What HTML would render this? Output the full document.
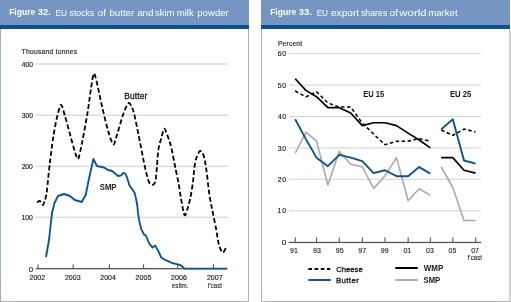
<!DOCTYPE html>
<html><head><meta charset="utf-8"><style>
html,body{margin:0;padding:0;background:#fff;width:511px;height:302px;overflow:hidden;}
svg{display:block;will-change:transform;opacity:0.999;}
</style></head><body>
<svg width="511" height="302" viewBox="0 0 511 302">
<rect width="511" height="302" fill="#fff"/>
<rect x="0" y="0" width="249" height="25" fill="#7595c2"/>
<rect x="0" y="25" width="249" height="4" fill="#0b5096"/>
<rect x="0" y="29" width="1" height="273" fill="#a0b1c2"/>
<rect x="248" y="29" width="1" height="273" fill="#a0b1c2"/>
<rect x="0" y="301" width="249" height="1" fill="#a9b4bf"/>
<text x="9.17" y="15.30" font-family="Liberation Sans, sans-serif" font-size="8.77" fill="#fff" font-weight="bold" textLength="26.11" lengthAdjust="spacingAndGlyphs">Figure</text>
<text x="37.69" y="15.30" font-family="Liberation Sans, sans-serif" font-size="8.77" fill="#fff" font-weight="bold" textLength="13.05" lengthAdjust="spacingAndGlyphs">32.</text>
<text x="55.42" y="15.50" font-family="Liberation Sans, sans-serif" font-size="9.18" fill="#fff" textLength="11.52" lengthAdjust="spacingAndGlyphs">EU</text>
<text x="69.56" y="15.50" font-family="Liberation Sans, sans-serif" font-size="9.18" fill="#fff" textLength="24.63" lengthAdjust="spacingAndGlyphs">stocks</text>
<text x="97.56" y="15.50" font-family="Liberation Sans, sans-serif" font-size="9.18" fill="#fff" textLength="8.63" lengthAdjust="spacingAndGlyphs">of</text>
<text x="109.47" y="15.50" font-family="Liberation Sans, sans-serif" font-size="9.18" fill="#fff" textLength="24.77" lengthAdjust="spacingAndGlyphs">butter</text>
<text x="137.19" y="15.50" font-family="Liberation Sans, sans-serif" font-size="9.18" fill="#fff" textLength="16.23" lengthAdjust="spacingAndGlyphs">and</text>
<text x="154.94" y="15.50" font-family="Liberation Sans, sans-serif" font-size="9.18" fill="#fff" textLength="19.48" lengthAdjust="spacingAndGlyphs">skim</text>
<text x="176.65" y="15.50" font-family="Liberation Sans, sans-serif" font-size="9.18" fill="#fff" textLength="17.15" lengthAdjust="spacingAndGlyphs">milk</text>
<text x="197.27" y="15.50" font-family="Liberation Sans, sans-serif" font-size="9.18" fill="#fff" textLength="31.57" lengthAdjust="spacingAndGlyphs">powder</text>
<rect x="261" y="0" width="249" height="25" fill="#7595c2"/>
<rect x="261" y="25" width="249" height="4" fill="#0b5096"/>
<rect x="261" y="29" width="1" height="273" fill="#a0b1c2"/>
<rect x="509" y="29" width="2" height="273" fill="#cdd4db"/>
<rect x="261" y="301" width="249" height="1" fill="#a9b4bf"/>
<text x="270.17" y="15.30" font-family="Liberation Sans, sans-serif" font-size="8.77" fill="#fff" font-weight="bold" textLength="26.11" lengthAdjust="spacingAndGlyphs">Figure</text>
<text x="298.69" y="15.30" font-family="Liberation Sans, sans-serif" font-size="8.77" fill="#fff" font-weight="bold" textLength="13.05" lengthAdjust="spacingAndGlyphs">33.</text>
<text x="316.63" y="15.50" font-family="Liberation Sans, sans-serif" font-size="9.18" fill="#fff" textLength="11.29" lengthAdjust="spacingAndGlyphs">EU</text>
<text x="330.97" y="15.50" font-family="Liberation Sans, sans-serif" font-size="9.18" fill="#fff" textLength="28.1" lengthAdjust="spacingAndGlyphs">export</text>
<text x="360.96" y="15.50" font-family="Liberation Sans, sans-serif" font-size="9.18" fill="#fff" textLength="26.34" lengthAdjust="spacingAndGlyphs">shares</text>
<text x="389.46" y="15.50" font-family="Liberation Sans, sans-serif" font-size="9.18" fill="#fff" textLength="8.63" lengthAdjust="spacingAndGlyphs">of</text>
<text x="399.33" y="15.50" font-family="Liberation Sans, sans-serif" font-size="9.18" fill="#fff" textLength="27.21" lengthAdjust="spacingAndGlyphs">world</text>
<text x="428.15" y="15.50" font-family="Liberation Sans, sans-serif" font-size="9.18" fill="#fff" textLength="29.43" lengthAdjust="spacingAndGlyphs">market</text>
<text x="21.62" y="53.90" font-family="Liberation Sans, sans-serif" font-size="6.78" fill="#1a1a1a" letter-spacing="0.224" stroke="#1a1a1a" stroke-width="0.15">Thousand tonnes</text>
<rect x="35.6" y="63.3" width="192.6" height="1.4" fill="#dadada"/>
<text x="21.83" y="66.50" font-family="Liberation Sans, sans-serif" font-size="6.92" fill="#1a1a1a" textLength="11.05" lengthAdjust="spacingAndGlyphs" stroke="#1a1a1a" stroke-width="0.15">400</text>
<rect x="35.6" y="114.5" width="192.6" height="1.4" fill="#dadada"/>
<text x="21.72" y="117.70" font-family="Liberation Sans, sans-serif" font-size="6.92" fill="#1a1a1a" textLength="11.16" lengthAdjust="spacingAndGlyphs" stroke="#1a1a1a" stroke-width="0.15">300</text>
<rect x="35.6" y="165.70000000000002" width="192.6" height="1.4" fill="#dadada"/>
<text x="21.64" y="168.90" font-family="Liberation Sans, sans-serif" font-size="6.92" fill="#1a1a1a" textLength="11.25" lengthAdjust="spacingAndGlyphs" stroke="#1a1a1a" stroke-width="0.15">200</text>
<rect x="35.6" y="216.70000000000002" width="192.6" height="1.4" fill="#dadada"/>
<text x="21.46" y="219.90" font-family="Liberation Sans, sans-serif" font-size="6.92" fill="#1a1a1a" textLength="11.43" lengthAdjust="spacingAndGlyphs" stroke="#1a1a1a" stroke-width="0.15">100</text>
<text x="28.76" y="271.50" font-family="Liberation Sans, sans-serif" font-size="6.64" fill="#1a1a1a" textLength="4.37" lengthAdjust="spacingAndGlyphs" stroke="#1a1a1a" stroke-width="0.15">0</text>
<rect x="35.8" y="268" width="191.5" height="1.3" fill="#555555"/>
<rect x="37.5" y="264.3" width="1.1" height="4" fill="#555555"/>
<text x="29.47" y="279.70" font-family="Liberation Sans, sans-serif" font-size="7.19" fill="#1a1a1a" textLength="15.77" lengthAdjust="spacingAndGlyphs" stroke="#1a1a1a" stroke-width="0.15">2002</text>
<rect x="72.6" y="264.3" width="1.1" height="4" fill="#555555"/>
<text x="64.92" y="279.70" font-family="Liberation Sans, sans-serif" font-size="7.19" fill="#1a1a1a" textLength="15.72" lengthAdjust="spacingAndGlyphs" stroke="#1a1a1a" stroke-width="0.15">2003</text>
<rect x="108.8" y="264.3" width="1.1" height="4" fill="#555555"/>
<text x="100.32" y="279.70" font-family="Liberation Sans, sans-serif" font-size="7.19" fill="#1a1a1a" textLength="15.61" lengthAdjust="spacingAndGlyphs" stroke="#1a1a1a" stroke-width="0.15">2004</text>
<rect x="143.0" y="264.3" width="1.1" height="4" fill="#555555"/>
<text x="135.62" y="279.70" font-family="Liberation Sans, sans-serif" font-size="7.19" fill="#1a1a1a" textLength="15.7" lengthAdjust="spacingAndGlyphs" stroke="#1a1a1a" stroke-width="0.15">2005</text>
<rect x="177.0" y="264.3" width="1.1" height="4" fill="#555555"/>
<text x="171.12" y="279.70" font-family="Liberation Sans, sans-serif" font-size="7.19" fill="#1a1a1a" textLength="15.72" lengthAdjust="spacingAndGlyphs" stroke="#1a1a1a" stroke-width="0.15">2006</text>
<rect x="212.9" y="264.3" width="1.1" height="4" fill="#555555"/>
<text x="206.92" y="279.70" font-family="Liberation Sans, sans-serif" font-size="7.19" fill="#1a1a1a" textLength="15.77" lengthAdjust="spacingAndGlyphs" stroke="#1a1a1a" stroke-width="0.15">2007</text>
<text x="171.78" y="287.60" font-family="Liberation Sans, sans-serif" font-size="6.99" fill="#1a1a1a" textLength="16.83" lengthAdjust="spacingAndGlyphs" stroke="#1a1a1a" stroke-width="0.1">estim.</text>
<text x="207.66" y="287.60" font-family="Liberation Sans, sans-serif" font-size="6.99" fill="#1a1a1a" textLength="14.33" lengthAdjust="spacingAndGlyphs" stroke="#1a1a1a" stroke-width="0.1">f’cast</text>
<path d="M46.00,257.00 L49.00,240.00 L52.00,212.80 L54.50,203.00 L58.00,196.00 L64.00,194.00 L70.00,196.00 L74.80,200.00 L81.70,202.00 L85.70,195.00 L88.70,180.00 L93.40,159.00 L97.00,166.00 L104.00,167.50 L108.00,170.00 L112.00,171.00 L118.00,176.00 L121.00,175.50 L123.30,172.90 L125.30,173.60 L127.30,178.20 L129.30,184.90 L131.90,188.80 L134.60,192.80 L135.90,198.10 L137.20,204.70 L138.00,213.20 L139.30,221.20 L141.30,229.10 L143.90,234.40 L145.90,235.50 L149.30,243.60 L152.60,247.60 L155.20,245.60 L157.90,250.20 L161.20,257.50 L165.80,260.20 L172.50,263.20 L177.80,264.40 L181.10,265.50 L184.40,268.60 L227.00,268.60" fill="none" stroke="#0b5399" stroke-width="1.85" stroke-linejoin="round"/>
<path d="M37,202.5 C37.40,202.30 39.20,200.67 40,201 C40.80,201.33 42.33,205.13 43,205 C43.67,204.87 44.53,201.47 45,200 C45.47,198.53 46.17,196.00 46.5,194 C46.83,192.00 47.06,189.08 47.5,185 C47.94,180.92 49.03,169.83 49.8,163.4 C50.57,156.97 52.37,142.83 53.3,136.8 C54.23,130.77 55.77,122.45 56.8,118.2 C57.83,113.95 59.92,105.21 61,104.9 C62.08,104.59 63.61,111.65 64.9,115.9 C66.19,120.15 69.31,131.85 70.7,136.8 C72.09,141.75 74.29,150.07 75.3,153 C76.31,155.93 77.37,160.35 78.3,158.8 C79.23,157.25 81.09,147.43 82.3,141.4 C83.51,135.37 86.27,120.48 87.4,113.6 C88.53,106.72 89.96,95.13 90.8,89.8 C91.64,84.47 92.93,74.71 93.7,73.6 C94.47,72.49 95.45,76.97 96.6,81.5 C97.75,86.03 100.74,100.95 102.3,107.6 C103.86,114.25 106.83,126.48 108.3,131.4 C109.77,136.32 112.14,144.06 113.3,144.5 C114.46,144.94 115.63,138.87 117,134.7 C118.37,130.53 122.03,117.43 123.6,113.2 C125.17,108.97 127.48,103.21 128.8,103 C130.12,102.79 132.21,107.37 133.5,111.6 C134.79,115.83 137.03,127.58 138.5,134.7 C139.97,141.82 143.17,158.84 144.5,165 C145.83,171.16 147.53,178.25 148.5,180.9 C149.47,183.55 150.92,184.73 151.8,184.9 C152.68,185.07 154.49,183.80 155.1,182.2 C155.71,180.60 155.96,177.25 156.4,172.9 C156.84,168.55 157.75,154.23 158.4,149.6 C159.05,144.97 160.50,140.99 161.3,138.2 C162.10,135.41 163.33,128.34 164.4,128.7 C165.47,129.06 168.30,138.03 169.3,140.9 C170.30,143.77 171.10,146.65 171.9,150.2 C172.70,153.75 174.41,163.07 175.3,167.5 C176.19,171.93 177.84,179.27 178.6,183.4 C179.36,187.53 180.21,194.27 181,198.5 C181.79,202.73 183.62,213.77 184.5,215.1 C185.38,216.43 186.84,210.71 187.6,208.5 C188.36,206.29 189.49,201.95 190.2,198.5 C190.91,195.05 192.33,186.81 192.9,182.6 C193.47,178.39 194.02,170.23 194.5,166.9 C194.98,163.57 195.79,159.72 196.5,157.6 C197.21,155.48 199.00,151.61 199.8,151 C200.60,150.39 201.89,152.04 202.5,153 C203.11,153.96 203.88,155.91 204.4,158.2 C204.92,160.49 205.73,165.35 206.4,170.2 C207.07,175.05 208.64,189.41 209.4,194.6 C210.16,199.79 211.23,204.66 212.1,209.1 C212.97,213.54 214.99,223.14 215.9,227.9 C216.81,232.66 217.97,241.49 218.9,244.8 C219.83,248.11 221.85,252.57 222.9,252.7 C223.95,252.83 226.28,246.72 226.8,245.8" fill="none" stroke="#000" stroke-width="1.8" stroke-dasharray="4.8 2.5"/>
<text x="124.37" y="98.90" font-family="Liberation Sans, sans-serif" font-size="8.33" fill="#1a1a1a" letter-spacing="0.115" stroke="#1a1a1a" stroke-width="0.32">Butter</text>
<text x="99.77" y="189.80" font-family="Liberation Sans, sans-serif" font-size="9.04" fill="#1a1a1a" font-weight="bold" textLength="16.7" lengthAdjust="spacingAndGlyphs">SMP</text>
<text x="277.93" y="45.90" font-family="Liberation Sans, sans-serif" font-size="6.64" fill="#1a1a1a" letter-spacing="0.227" stroke="#1a1a1a" stroke-width="0.15">Percent</text>
<rect x="288.8" y="53.12" width="192.2" height="1" fill="#d2d2d2"/>
<text x="277.73" y="56.22" font-family="Liberation Sans, sans-serif" font-size="6.92" fill="#1a1a1a" letter-spacing="0.677" stroke="#1a1a1a" stroke-width="0.15">60</text>
<rect x="288.8" y="84.55" width="192.2" height="1" fill="#d2d2d2"/>
<text x="277.80" y="87.65" font-family="Liberation Sans, sans-serif" font-size="6.92" fill="#1a1a1a" letter-spacing="0.607" stroke="#1a1a1a" stroke-width="0.15">50</text>
<rect x="288.8" y="115.98" width="192.2" height="1" fill="#d2d2d2"/>
<text x="277.92" y="119.08" font-family="Liberation Sans, sans-serif" font-size="6.92" fill="#1a1a1a" letter-spacing="0.486" stroke="#1a1a1a" stroke-width="0.15">40</text>
<rect x="288.8" y="147.41" width="192.2" height="1" fill="#d2d2d2"/>
<text x="277.82" y="150.51" font-family="Liberation Sans, sans-serif" font-size="6.92" fill="#1a1a1a" letter-spacing="0.59" stroke="#1a1a1a" stroke-width="0.15">30</text>
<rect x="288.8" y="178.84" width="192.2" height="1" fill="#d2d2d2"/>
<text x="277.73" y="181.94" font-family="Liberation Sans, sans-serif" font-size="6.92" fill="#1a1a1a" letter-spacing="0.677" stroke="#1a1a1a" stroke-width="0.15">20</text>
<rect x="288.8" y="210.27" width="192.2" height="1" fill="#d2d2d2"/>
<text x="277.56" y="213.37" font-family="Liberation Sans, sans-serif" font-size="6.92" fill="#1a1a1a" letter-spacing="0.849" stroke="#1a1a1a" stroke-width="0.15">10</text>
<text x="281.75" y="244.90" font-family="Liberation Sans, sans-serif" font-size="6.92" fill="#1a1a1a" textLength="4.48" lengthAdjust="spacingAndGlyphs" stroke="#1a1a1a" stroke-width="0.15">0</text>
<rect x="288.7" y="241.8" width="192.3" height="1.3" fill="#555555"/>
<rect x="294.7" y="237.4" width="1.1" height="4.5" fill="#555555"/>
<text x="290.07" y="252.90" font-family="Liberation Sans, sans-serif" font-size="7.64" fill="#1a1a1a" textLength="7.87" lengthAdjust="spacingAndGlyphs" stroke="#1a1a1a" stroke-width="0.12">91</text>
<rect x="316.0" y="237.4" width="1.1" height="4.5" fill="#555555"/>
<text x="312.98" y="252.90" font-family="Liberation Sans, sans-serif" font-size="7.64" fill="#1a1a1a" textLength="7.83" lengthAdjust="spacingAndGlyphs" stroke="#1a1a1a" stroke-width="0.12">93</text>
<rect x="338.7" y="237.4" width="1.1" height="4.5" fill="#555555"/>
<text x="335.78" y="252.90" font-family="Liberation Sans, sans-serif" font-size="7.64" fill="#1a1a1a" textLength="7.81" lengthAdjust="spacingAndGlyphs" stroke="#1a1a1a" stroke-width="0.12">95</text>
<rect x="361.8" y="237.4" width="1.1" height="4.5" fill="#555555"/>
<text x="358.27" y="252.90" font-family="Liberation Sans, sans-serif" font-size="7.64" fill="#1a1a1a" textLength="7.89" lengthAdjust="spacingAndGlyphs" stroke="#1a1a1a" stroke-width="0.12">97</text>
<rect x="384.5" y="237.4" width="1.1" height="4.5" fill="#555555"/>
<text x="380.77" y="252.90" font-family="Liberation Sans, sans-serif" font-size="7.64" fill="#1a1a1a" textLength="7.85" lengthAdjust="spacingAndGlyphs" stroke="#1a1a1a" stroke-width="0.12">99</text>
<rect x="407.6" y="237.4" width="1.1" height="4.5" fill="#555555"/>
<text x="403.43" y="252.90" font-family="Liberation Sans, sans-serif" font-size="7.64" fill="#1a1a1a" textLength="7.81" lengthAdjust="spacingAndGlyphs" stroke="#1a1a1a" stroke-width="0.12">01</text>
<rect x="429.8" y="237.4" width="1.1" height="4.5" fill="#555555"/>
<text x="426.03" y="252.90" font-family="Liberation Sans, sans-serif" font-size="7.64" fill="#1a1a1a" textLength="7.77" lengthAdjust="spacingAndGlyphs" stroke="#1a1a1a" stroke-width="0.12">03</text>
<rect x="452.3" y="237.4" width="1.1" height="4.5" fill="#555555"/>
<text x="448.53" y="252.90" font-family="Liberation Sans, sans-serif" font-size="7.64" fill="#1a1a1a" textLength="7.75" lengthAdjust="spacingAndGlyphs" stroke="#1a1a1a" stroke-width="0.12">05</text>
<rect x="475.1" y="237.4" width="1.1" height="4.5" fill="#555555"/>
<text x="471.13" y="252.90" font-family="Liberation Sans, sans-serif" font-size="7.64" fill="#1a1a1a" textLength="7.83" lengthAdjust="spacingAndGlyphs" stroke="#1a1a1a" stroke-width="0.12">07</text>
<text x="467.56" y="260.20" font-family="Liberation Sans, sans-serif" font-size="6.99" fill="#1a1a1a" textLength="14.33" lengthAdjust="spacingAndGlyphs" stroke="#1a1a1a" stroke-width="0.1">f’cast</text>
<text x="363.19" y="97.20" font-family="Liberation Sans, sans-serif" font-size="8.9" fill="#1a1a1a" font-weight="bold" textLength="21.03" lengthAdjust="spacingAndGlyphs">EU 15</text>
<text x="449.88" y="97.20" font-family="Liberation Sans, sans-serif" font-size="8.9" fill="#1a1a1a" font-weight="bold" textLength="21.45" lengthAdjust="spacingAndGlyphs">EU 25</text>
<path d="M295.20,153.25 L305.90,132.19 L316.50,141.00 L327.90,185.00 L339.20,151.37 L350.70,164.25 L362.30,166.77 L373.60,188.45 L385.00,175.88 L396.50,157.65 L408.10,200.71 L419.20,188.77 L430.30,195.37" fill="none" stroke="#ababab" stroke-width="1.65" stroke-linejoin="round"/>
<path d="M295.20,119.31 L305.90,139.11 L316.50,157.65 L327.90,166.14 L339.20,154.82 L350.70,157.65 L362.30,161.11 L373.60,173.05 L385.00,170.23 L396.50,176.20 L408.10,176.20 L419.20,167.08 L430.30,173.68" fill="none" stroke="#0b5399" stroke-width="1.9" stroke-linejoin="round"/>
<path d="M295.20,78.76 L305.90,90.39 L316.50,96.68 L327.90,107.68 L339.20,107.68 L350.70,113.02 L362.30,125.59 L373.60,122.77 L385.00,122.77 L396.50,125.59 L408.10,133.14 L419.20,140.05 L430.30,147.91" fill="none" stroke="#000" stroke-width="1.7" stroke-linejoin="round"/>
<path d="M295.20,91.02 L305.90,96.99 L316.50,91.65 L327.90,102.97 L339.20,107.05 L350.70,107.05 L362.30,123.08 L373.60,134.08 L385.00,144.77 L396.50,141.31 L408.10,141.31 L419.20,138.48 L430.30,141.31" fill="none" stroke="#000" stroke-width="1.5" stroke-dasharray="3.5 2.5"/>
<path d="M441.20,166.77 L452.80,187.51 L464.00,220.51 L475.60,220.51" fill="none" stroke="#ababab" stroke-width="1.65" stroke-linejoin="round"/>
<path d="M441.20,129.37 L452.80,119.31 L464.00,160.48 L475.60,163.62" fill="none" stroke="#0b5399" stroke-width="1.9" stroke-linejoin="round"/>
<path d="M441.20,157.65 L452.80,157.65 L464.00,170.23 L475.60,173.05" fill="none" stroke="#000" stroke-width="1.7" stroke-linejoin="round"/>
<path d="M441.20,129.99 L452.80,135.34 L464.00,129.05 L475.60,131.88" fill="none" stroke="#000" stroke-width="1.5" stroke-dasharray="3.5 2.5"/>
<path d="M308.4,269 L330.2,269" stroke="#000" stroke-width="2" stroke-dasharray="3.6 2.6" stroke-linecap="butt"/>
<path d="M309,280.1 L330,280.1" stroke="#0b5399" stroke-width="2" stroke-linecap="round"/>
<path d="M396,268 L417,268" stroke="#000" stroke-width="2" stroke-linecap="round"/>
<path d="M396,280 L417,280" stroke="#ababab" stroke-width="2" stroke-linecap="round"/>
<text x="336.18" y="272.00" font-family="Liberation Sans, sans-serif" font-size="7.92" fill="#1a1a1a" textLength="26.51" lengthAdjust="spacingAndGlyphs" stroke="#1a1a1a" stroke-width="0.32">Cheese</text>
<text x="335.91" y="283.00" font-family="Liberation Sans, sans-serif" font-size="7.92" fill="#1a1a1a" letter-spacing="0.366" stroke="#1a1a1a" stroke-width="0.32">Butter</text>
<text x="423.80" y="271.00" font-family="Liberation Sans, sans-serif" font-size="8.49" fill="#1a1a1a" font-weight="bold" textLength="19.47" lengthAdjust="spacingAndGlyphs">WMP</text>
<text x="423.57" y="282.80" font-family="Liberation Sans, sans-serif" font-size="8.49" fill="#1a1a1a" font-weight="bold" textLength="16.7" lengthAdjust="spacingAndGlyphs">SMP</text>
</svg>
</body></html>
